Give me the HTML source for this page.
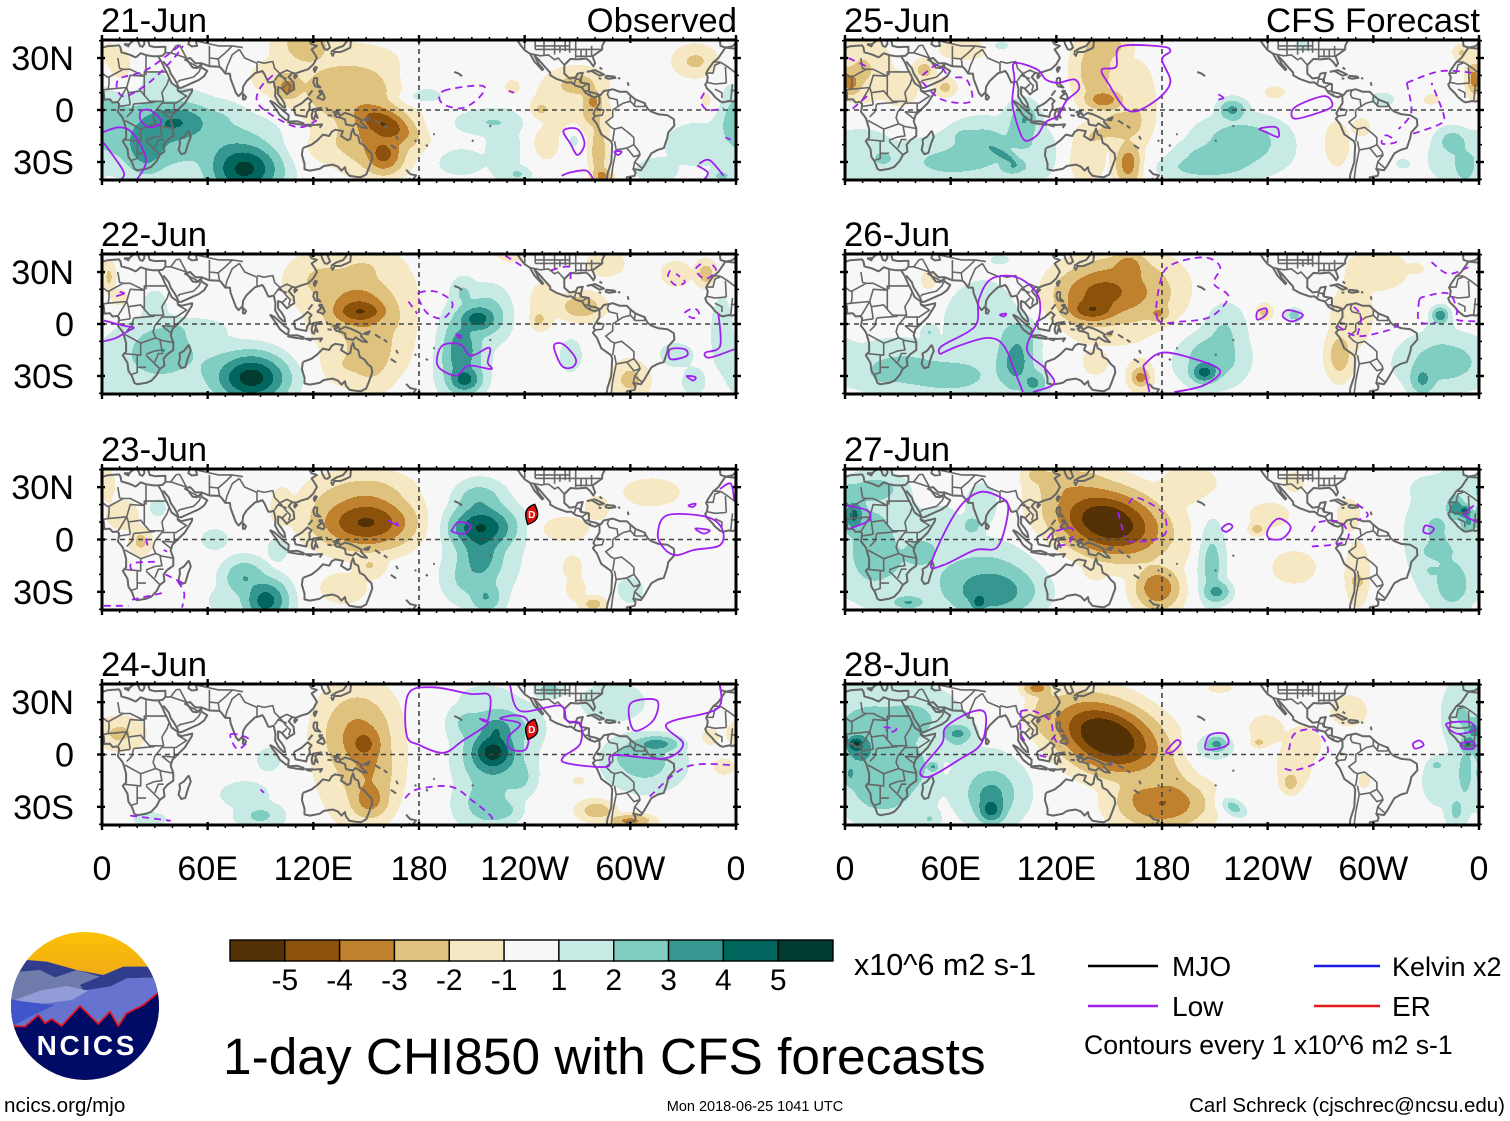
<!DOCTYPE html>
<html lang="en"><head><meta charset="utf-8"><title>1-day CHI850 with CFS forecasts</title>
<style>
html,body{margin:0;padding:0;background:#fff}
svg{display:block}
text{font-family:"Liberation Sans",Arial,sans-serif;fill:#000}
</style></head>
<body>
<svg id="chart" xmlns="http://www.w3.org/2000/svg" width="1510" height="1121" viewBox="0 0 1510 1121">
<rect width="1510" height="1121" fill="#fff"/>
<g id="panels"></g>

<g id="colorbar"></g>
<text x="854" y="975" font-size="30.5">x10^6 m2 s-1</text>
<text x="223" y="1074" font-size="51.4">1-day CHI850 with CFS forecasts</text>

<g>
<line x1="1088" x2="1158" y1="966" y2="966" stroke="#000" stroke-width="2.4"/>
<text x="1172" y="976" font-size="28">MJO</text>
<line x1="1088" x2="1158" y1="1006" y2="1006" stroke="#a020f0" stroke-width="2.4"/>
<text x="1172" y="1016" font-size="28">Low</text>
<line x1="1314" x2="1380" y1="966" y2="966" stroke="#1a1ae6" stroke-width="2.4"/>
<text x="1392" y="976" font-size="27">Kelvin x2</text>
<line x1="1314" x2="1380" y1="1006" y2="1006" stroke="#e61a1a" stroke-width="2.4"/>
<text x="1392" y="1016" font-size="28">ER</text>
<text x="1084" y="1054" font-size="26.6">Contours every 1 x10^6 m2 s-1</text>
</g>
<text x="1505" y="1112" font-size="20.5" text-anchor="end">Carl Schreck (cjschrec@ncsu.edu)</text>
<text x="4" y="1112" font-size="20.6">ncics.org/mjo</text>
<text x="755" y="1111" font-size="14.5" text-anchor="middle">Mon 2018-06-25 1041 UTC</text>

<g transform="translate(0,920) scale(0.3333)">
<defs><clipPath id="logoClip"><circle cx="255" cy="258" r="222"/></clipPath>
<linearGradient id="sunGrad" x1="0" y1="0" x2="0" y2="1"><stop offset="0" stop-color="#ffc800"/><stop offset="0.35" stop-color="#f0a818"/></linearGradient></defs>
<g clip-path="url(#logoClip)">
<rect x="0" y="0" width="520" height="520" fill="url(#sunGrad)"/>
<path d="M80,120L140,125L230,150L310,165L370,140L445,140L490,200L490,320L20,320L30,200Z" fill="#2f3d8c"/>
<path d="M60,155L120,150L165,172L230,150L300,170L240,195L250,212L330,200L380,175L460,172L490,320L20,320L25,200Z" fill="#6f7cab"/>
<path d="M240,195L300,170L250,205Z" fill="#2f3d8c"/>
<path d="M250,212L330,200L380,175L460,172L490,215L380,290L40,320L140,250Z" fill="#6674cf"/>
<path d="M45,240L120,212L200,198L265,212L215,240L120,252Z" fill="#929dd8"/>
<path d="M20,235L70,245L165,255L100,285L45,315L20,320Z" fill="#3f55c9"/>
<path d="M40,318L75,320L115,285L135,310L155,297L185,318L240,258L295,312L330,275L355,318L380,280L430,255L475,218L500,200L500,500L10,500L10,318Z" fill="#000b66" stroke="#e8101c" stroke-width="5"/>
</g>
<text x="110" y="405" font-size="84" font-weight="bold" letter-spacing="8" style="fill:#fff">NCICS</text>
</g>
</svg>

<script>
// ---- Panel labels and axes ----
const panelDates = ["21-Jun","22-Jun","23-Jun","24-Jun","25-Jun","26-Jun","27-Jun","28-Jun"];
const xTickLons = [0,60,120,180,240,300,360];
const xTickLabels = ["0","60E","120E","180","120W","60W","0"];
const yTickLats = [30,0,-30];
const yTickLabels = ["30N","0","30S"];
const colorLevels = ["-5","-4","-3","-2","-1","1","2","3","4","5"];
const levelValues = [-5,-4,-2.9,-1.75,-0.72,0.72,1.75,2.9,4,5];
const levelColors = ["#543005","#8c510a","#bf812d","#dfc27d","#f6e8c3","#f7f7f7","#c7eae5","#80cdc1","#35978f","#01665e","#003c30"];
const stormLons = [244,244];
const stormLats = [14.4,14.4];
const stormPanels = [2,3];
const stormNames = ["D","D"];

// ---- Anomaly centres: lon, lat, peak value, spreadLon, spreadLat, tilt ----
const field21Jun = [
[42,-7,3.8,14,7],[25,-22,3.4,8,10],[3,-6,2.5,9,12],[32,-14,2.9,24,14],[70,-20,2.3,14,11],[90,-12,1.5,14,9],[70,-3,1.5,10,6],[30,15,1.2,6,6],
[81,-34,5.3,13,10],
[160,-8,-4.7,12,6,-25],[160,-26,-4.2,7,7],[155,-15,-3.2,14,13],[140,10,-2.5,24,15],[105,13,-3.4,5,5],[130,-20,-1.5,13,8],[116,38,-2.4,11,9],[100,18,-1.5,11,8],
[182,8,2.1,8,3],[182,16,1.5,8,7],[220,-7,1.8,14,5],[203,-30,1.6,9,5],[236,-37,1.9,5,3],[228,-22,1.5,7,13],
[268,-17,1.4,3,4],[315,-35,1.5,8,5],[338,-20,1.6,12,8],[352,-38,2,5,3],
[249,0,-2.1,4,4],[252,-18,-1.6,5,7],[279,5,-3.2,3,3.5],[270,15,-2.2,10,6],[282,-24,-2.5,3.5,12],[284,-38,-3.3,3.5,3],[233,13,-1.5,3,3],[278,0,-2.2,6,10],[258,2,-1.5,9,11],
[337,28,-2,8,6],[344,5,-1.4,4,5],[10,24,-1.5,5,8],[4,32,-1.3,3,5]];
const field22Jun = [
[85,-31,5.5,13,9],[35,-15,2.8,12,10],[41,-5,2.2,4,4],[5,-30,1.5,7,8],[30,10,1.3,5,7],[62,-25,1.7,14,12],[55,-3,1.5,10,4],[25,-20,1.6,18,14],
[213,3,4.4,7,5],[206,-32,4.4,6,5],[204,-15,3.3,6,10],[205,18,2,5,6],[218,5,2.5,9,10],[203,-25,2.5,9,12],[204,-10,2.7,9,15],
[266,-18,1.7,4,6],[326,-18,1.4,7,5],[352,-5,1.6,4,14],[336,-33,1.3,5,6],
[147,7,-4.3,10,4.5],[145,10,-3.7,13,10],[152,-15,-2.7,9,13],[125,25,-2,13,10],[148,32,-1.7,12,7],[137,-24,-1.6,9,7],[170,-5,-1.4,5,13],[150,5,-1.8,20,24],
[248,2.5,-2.1,3,3.5],[272,10,-2.7,8,5],[250,10,-1.4,6,10],[300,-32,-2.1,7,7],
[343,29,-2.4,4,5],[326,29,-1.5,6,5],[4,27,-2,2.5,6],[10,15,-1.4,4,4],[286,35,-1.6,7,5],[232,40,-1.4,6,3]];
const field23Jun = [
[150,9,-4.7,18,9],[150,14,-3.3,16,12],[150,28,-1.8,18,7],[130,20,-1.7,12,10],[137,-28,-1.5,9,6],[152,-15,-1.8,6,5],[102,18,-1.3,5,9],
[22,-1,-2.1,4,5],[12,14,-1.4,7,6],[3,31,-1.5,3,6],[312,27,-1.7,10,5],[262,6,-1.7,9,4.5],[281,18,-1.4,5,5],[279,-37,-2.2,5,3],[267,-16,-1.4,4,5],[269,-28,-1.4,4,5],
[215,7,5,12,8],[215,-8,3.4,8,12],[214,22,2.7,9,7],[218,-33,2.9,6,6],[208,-22,2,9,9],[215,-5,1.9,14,20],
[93,-35,4.5,8,8],[81,-22,2.9,8,7],[100,-5,1.7,4,5],[64,0,1.5,5,4],[300,-29,1.5,5,5],[31,18,1.3,4,4],[72,-35,1.4,8,6]];
const field24Jun = [
[149,6,-3.8,7,7],[145,12,-3,13,15],[152,-26,-3.4,7,7],[152,-10,-2.7,10,14],[145,0,-1.9,15,26],
[10,12,-2,9,6],
[222,1.5,5.2,8,7],[224,14,3.4,6,5],[226,-32,2.3,7,4],[237,-13,2.1,6,7],[207,18,1.9,7,7],[218,33,1.6,9,4],[222,-3,3.2,12,12],[225,15,2.6,14,10],[218,-28,2.3,11,10],
[254,37,2.4,5,3],[315,6,3.5,8,3],[308,-5,2.2,14,10],[302,0,2.1,9,6],[290,30,1.4,13,8],
[90,-35,2,9,5],[81,-23,1.6,9,5],[27,-37,1.3,7,3],[95,-3,1.4,5,5],
[281,-32,-2.5,7,4],[300,-38,-3.3,8,2.5],[271,-15,-1.3,3,2],[353,-7,-1.7,4,3],[345,10,-1.3,4,4]];
const field25Jun = [
[147,6,-3.6,7,4],[161,-31,-3.8,5,8],[142,23,-2.5,8,13],[156,-9,-2.4,9,7],[149,37,-2.4,8,6],[166,0,-1.7,7,18],[137,-28,-1.8,7,9],[142,-15,-1.8,8,5],
[3,16,-3.5,4,5],[10,23,-1.9,10,12],[45,23,-2.3,4,4],[57,13,-2.1,4,3.5],[31,12,-1.5,7,7],[67,35,-1.6,9,4],[350,33,-1.9,3,3],[357,18,-3.3,2.5,6],[333,6,-1.6,3,2],[244,10,-1.5,4,2.5],[279,-20,-1.6,5,9],[293,-10,-1.3,4,4],
[220,0,3.2,5,4],[225,-18,2.5,16,9],[204,-26,1.8,10,5],[205,-33,2.2,18,5],[218,-28,1.6,22,8],
[90,-26,3.2,9,2.5,-30],[95,-33,2.8,5,3],[67,-15,2,4,3],[78,-20,2.4,13,9],[102,-5,2.7,5,6],[100,-12,2.2,7,10],[60,-30,2,24,9],[110,-25,1.6,8,10],
[22,-28,2.2,4,3],[10,-25,1.6,12,10],[345,-18,2.3,6,5],[352,-34,2.2,4,6],[350,-28,1.7,12,10],[317,-31,1.3,3,2],[260,37,1.5,3,2],[88,37,1.3,4,2],[305,6,1.3,5,3]];
const field26Jun = [
[140,8,-4.5,9,4.5],[142,16,-3.9,16,11],[161,33,-3.5,6,6],[150,20,-3.2,14,9],[178,6,-3.1,4,3],[166,18,-2.8,16,13],[154,31,-2.1,15,7],
[168,-31,-3.4,3,3],[168,-30,-2.2,5,6],[142,-22,-1.6,5,5],[149,-7,-1.7,12,3.5],
[281,-18,-2.5,5,9],[288,4,-1.6,8,13],[302,31,-1.5,12,8],[238,7,-2.3,3,3],[324,32,-1.6,3,2],[48,25,-1.3,4,5],
[204,-28,4.4,5,4],[208,-20,2.6,12,10],[215,-5,1.9,8,11],[97,-22,3.4,7,11],[107,-34,3.2,5,5],[100,-7,2.4,7,8],[60,-30,2,26,11],[22,-28,2.5,5,4],[30,-25,1.9,18,10],[48,-5,1.8,3,3],[80,0,1.7,15,16],
[338,5,3.8,3,3],[338,-3,1.5,5,7],[328,-32,3.1,5,6],[340,-22,2.4,16,10],[255,5,2.3,3,2.5],[88,37,1.3,4,2]];
const field27Jun = [
[149,10,-6,20,12,-14],[109,37,-2.2,5,4],[130,32,-2.3,15,7],[178,-28,-3.7,8,8],[175,-27,-2.1,8,8],[196,31,-1.4,12,8],[192,-1,-1.3,4,10],[120,30,-2,8,8],
[234,6,-2.3,3,2.5],[241,14,-1.4,8,5],[255,-16,-1.6,8,6],[291,-24,-2.2,3,3],[291,-20,-1.5,5,13],[255,33,-1.4,4,4],[142,-18,-1.4,5,4],[286,14,-1.3,5,7],
[211,-30,3.3,5,4],[208,-13,2.4,5,15],[83,-30,3.7,16,9],[76,-36,4.3,3,3],[79,-22,2.3,20,13],[36,-36,3,6,2.5],
[5,14,4.3,4,6],[17,29,2.4,10,5],[3,27,2.5,4,4],[15,-13,1.8,10,12],[43,-7,2.3,6,5],[72,8,2.4,4,4],[78,20,1.7,6,8],[55,4,1.5,8,10],[15,5,1.9,16,20],[35,-15,1.6,25,18],
[347,18,3.8,3,4],[352,16,4.7,2.5,2.5],[354,10,3,3,4],[336,8,2.1,3,3],[336,-7,2,6,3],[333,-18,2,2.5,2],[345,-26,2.5,7,9],[331,4,1.4,9,16],[331,29,1.3,7,5],[340,-5,1.7,12,22],[345,25,1.5,8,10]];
const field28Jun = [
[149,10,-6.2,20,12,-22],[109,38,-3.5,5,3],[114,23,-2.6,5,9],[180,-28,-4,16,9],[185,-15,-1.9,8,11],[165,-22,-1.9,7,6],
[253,-16,-2.3,3.5,4],[255,-7,-1.4,7,9],[235,7,-2.1,3,2],[239,14,-1.4,7,6],[260,6,-1.5,7,7],[286,25,-1.5,7,6],[295,-15,-1.3,2.5,3],[213,38,-1.3,5,2],
[83,-32,4.3,5,5],[83,-24,3.2,8,8],[83,-20,2,14,14],[220,-30,2.7,5,3,-30],[211,6,3.3,4,3],[208,4,1.8,8,5],
[6,6,5,3.5,3],[8,3,3.4,7,7],[12,18,2.4,10,7],[3,-11,2.9,3,5],[15,-15,2,10,12],[38,-7,2.1,8,9],[50,-7,3.1,2,2],[64,12,3.1,5,3],[64,10,1.9,7,8],[40,20,1.9,16,12],[48,-37,1.8,4,4],[20,5,2.1,18,22],[25,-20,2,16,14],
[357,14,3.4,3,4],[354,6,4.2,2.5,3],[352,-11,2.1,4,13],[350,23,1.8,7,13],[336,-6,2,3,2],[347,-32,2,4,7],[338,-15,1.5,7,10]];

// ---- Low-frequency contour lines (lon, lat pairs) ----
const solid21Jun = [
[[22,-1],[27,0],[33,-5],[33,-8],[27,-10],[22,-6],[22,-1]],
[[0,-13],[10,-10],[18,-14],[25,-29],[20,-40]],
[[1,-19],[12,-35],[11,-40]],
[[231,11],[234,10]],
[[262,-12],[270,-11],[274,-19.5],[270,-26],[266,-19.5],[262,-12]],
[[261,-38],[266,-36],[275,-35],[279,-40]],
[[291,-24],[295,-24],[293,-26],[291,-24]],
[[339,-31],[345,-29],[353,-38]],
[[338,-32],[344,-36],[342,-40]],
[[354,-16],[357,-17]]];
const dashed21Jun = [
[[44,37],[25,23],[10,18],[9,11],[14,8],[27,16],[40,29],[46,37]],
[[97,20],[90,13],[88,5],[95,-2],[111,-10],[122,-6]],
[[194,11],[216,14],[214,7],[204,1],[193,4],[194,11]],
[[342,10],[340,5],[344,0],[353,1]]];
const solid22Jun = [
[[1,2],[12.5,-1],[18,-2],[15,-4],[8,-8],[1,-10]],
[[10,18.6],[12.5,17.6],[8,16]],
[[190.6,-24],[193,-12.7],[203.5,-11.8],[209.4,-18.4],[220,-13.7],[219,-22.2],[221,-26],[208,-24],[201,-29.8],[190.6,-24]],
[[201,-6],[204,-7],[203,-8],[201,-6]],
[[256.6,-12.7],[262,-11.8],[269,-20],[267,-25],[261,-24],[256.6,-12.7]],
[[322.6,-14.6],[331,-14.6],[332,-18.4],[323,-20.3],[322.6,-14.6]],
[[332,-30],[337,-30.7],[335.6,-32.6],[332,-30]],
[[350,6],[351,-12.7],[342.6,-16.5],[345,-19.4],[359,-14.6]]];
const dashed22Jun = [
[[180,18],[190,18.6],[199,12],[194,3.4],[185,6],[180,14],[180,18]],
[[174,13],[179,6]],
[[322.6,31],[321.5,27],[326,22.4],[331,24.3],[326,29]],
[[340,34.7],[337,31],[342.6,26],[348.6,31],[345,35.7]],
[[331,6.3],[336,9],[339,6.3],[336,3.4],[331,6.3]],
[[229,39.5],[239,33]],
[[255,31],[265,33],[266,26]]];
const solid23Jun = [
[[162,11],[168,8],[167,10]],
[[199,6],[202.6,10],[209.4,8],[206,3.4],[199,4.4],[199,6]],
[[321,13.9],[343,13],[352,6.3],[351,-3.2],[336,-6],[326,-9],[319,-5],[315.6,3.4],[321,13.9]],
[[337,6.3],[345,5.3],[341.6,3.4],[337,6.3]],
[[333,19.5],[337,20.5],[335.6,18.6],[333,19.5]],
[[351,29],[357,32],[359,22.4]]];
const dashed23Jun = [
[[25,0.6],[26,-4]],[[35,-6],[37,-7]],[[30,-12.7],[17,-13.7],[17,-18.4]],
[[43,-24],[46.7,-30.7],[45.5,-39]],[[34,-30.7],[17,-34.5]],[[1,-38],[15,-38]],[[36,-20],[46,-25]]];
const solid24Jun = [
[[174,34.7],[188,38.5],[209,34.7],[220,33.8],[219,19.5],[214.6,20.5],[219,17.6],[205,8],[194,1],[180.6,5.3],[173,11],[174,34.7]],
[[231.7,39.5],[237.4,25],[260,28],[264,19.5],[271.5,17.6],[271.5,6],[262,-1.3],[264,-5],[286.6,-7],[290.4,-0.4],[319,-2.3],[330,6],[320.7,17.6],[349,26],[351,39.5]],
[[226,20.5],[235.5,22.4],[242,18.6],[241,3.4],[231.7,3.4],[230.8,10],[237.4,17.6],[226,20.5]],
[[300,29],[315,31],[313,19.5],[302,13.9],[300,29]]];
const dashed24Jun = [
[[172,-25],[179,-20],[198,-18.4],[211,-27],[221,-35.5],[221,-39.5]],
[[311,-24],[332,-7],[358,-6]],
[[73,11.5],[83,9],[77,3],[73,11.5]],
[[90,-20],[92,-22]],
[[16,-35],[39,-38]]];
const solid25Jun = [
[[96.2,27],[109,23.5],[114,17.6],[121,15.7],[130.4,17.6],[132.8,12],[125.7,5.3],[121,-3.2],[114,-7],[109,-14.6],[102,-17.5],[97.4,-7],[95,4.4],[96.2,17.6],[96.2,27]],
[[180,36.6],[184.7,33.8],[180,29],[184.7,15.7],[175,4.4],[161,-0.4],[149.3,15.7],[145.8,23.3],[154,25],[156.4,36.6],[180,36.6]],
[[255.4,1.5],[272,8],[276.7,2.5],[269.6,-1.3],[255.4,-5],[255.4,1.5]],
[[235.4,-10.8],[244.8,-9.9],[246,-15.6],[239,-12.7],[235.4,-10.8]],
[[212,9],[215,7],[212,6]]];
const dashed25Jun = [
[[44,20],[52.5,26],[58.5,19.5]],
[[44,16],[55,6],[71.5,5],[69,17.6],[60,18.6]],
[[2,30],[12.5,25]],[[12.5,8],[3,-0.4]],
[[319,15.7],[338,22.4],[357,21.4]],
[[319,15.7],[321.5,-1.3],[314.4,-11]],
[[322.6,-13.7],[338,-8],[340,-3],[333,15.7]],
[[307,-14.6],[313,-18.4],[305,-19.4],[307,-14.6]]];
const solid26Jun = [
[[53.8,-17.5],[55,-12.7],[73.8,-1.3],[76,13.9],[83,26],[97.4,27],[109,17.6],[110.4,4.4],[103.3,-14.6],[114,-26],[118.6,-34.5],[106.8,-39.3]],
[[53.8,-17.5],[64.4,-12.7],[81,-8],[90.3,-12.7],[97.4,-29.8],[101,-39.3]],
[[169.3,-24],[180,-16.5],[198.8,-20.3],[213,-27],[203.5,-35.5],[187,-39.3]],
[[169.3,-24],[172.9,-39.3]],
[[234.2,7.2],[239,9],[239,5.3],[234.2,2.5],[234.2,7.2]],
[[248.6,4.4],[251.3,8],[260,5.3],[254,1.5],[248.6,4.4]],
[[88,5.3],[91.5,6],[90.3,4.4],[88,5.3]]];
const dashed26Jun = [
[[177.6,2.5],[178.8,23.3],[184.7,33.8],[203.5,38.5],[213,33],[209.4,23.3],[217.7,15.7],[208,4.4],[191.8,1.5],[177.6,2.5]],
[[280,-1.3],[290.8,-7],[307.3,-4],[314.4,-0.4]],
[[289,10],[293,4],[290.8,-7]],
[[326,13.9],[328.6,15.7],[342.6,17.6],[347.4,8],[347.4,2.5],[359,1.5]],
[[326,13.9],[326,1.5],[335.6,0.6]],
[[333,35.7],[342.6,29],[354,32.8]]];
const solid27Jun = [
[[49,-13.7],[63,15.7],[76,27],[88,24.3],[92.7,17.6],[86.8,-4],[73.8,-6],[56,-14.6],[49,-13.7]],
[[214,6.3],[217.7,9],[220,7.2],[216.5,4.4],[214,6.3]],
[[240,5.3],[246,12],[253,7.2],[248.4,0.6],[241,0.6],[240,5.3]],
[[329.7,8],[334.4,6.3],[332,3.4],[328.5,4.4],[329.7,8]],
[[357,19.5],[352,14],[359,10]],
[[0.7,19.5],[12.5,16.7],[13.7,11],[3,6.3]]];
const dashed27Jun = [
[[161,20.5],[165.8,24],[180,15.7],[182.3,4.4],[175,-0.4],[161,-1.3]],
[[155,15.7],[158.7,1.5]],
[[115,0.6],[118.6,4.4],[129,6.3],[127,-2.3],[118.6,-3.2]],
[[264.9,4.4],[269.6,10],[281,10],[286,2.5],[281,-2.3],[264.9,-4]],
[[290.8,20.5],[297,14],[290.8,11]]];
const solid28Jun = [
[[43,-9],[55,6.3],[57.3,15.7],[71.5,24.3],[79.7,23.3],[77.4,6.3],[64.4,-3.2],[47.9,-12.7],[43,-9]],
[[182.3,1.5],[188,8],[190.5,6.3],[186,1.5],[182.3,1.5]],
[[204.7,3.4],[207,11],[215.3,12],[217.7,6.3],[211.8,3.4],[204.7,3.4]],
[[322.6,6.3],[326.2,8],[328.5,5.3],[323.8,3.4],[322.6,6.3]],
[[341.5,17.6],[354.5,18.6],[356.8,13.9],[347.4,12],[341.5,17.6]],
[[349.8,6.3],[356.8,7.2],[356.8,3.4],[351,3.4],[349.8,6.3]]];
const dashed28Jun = [
[[22,15.7],[29,14.8],[26.7,13],[23,13.9]],
[[252,2.5],[255.4,12],[267.2,13.9],[274.3,2.5],[267.2,-5],[255.4,-9],[249.5,-8]],
[[99.8,25],[106.8,25],[116.3,19.5],[118.6,10],[122,4.4]],
[[99.8,25],[99.8,12],[103.3,6.3]],
[[110.4,-0.4],[117.4,-2.3]]];

const panelFields = [field21Jun,field22Jun,field23Jun,field24Jun,field25Jun,field26Jun,field27Jun,field28Jun];
const panelSolid = [solid21Jun,solid22Jun,solid23Jun,solid24Jun,solid25Jun,solid26Jun,solid27Jun,solid28Jun];
const panelDashed = [dashed21Jun,dashed22Jun,dashed23Jun,dashed24Jun,dashed25Jun,dashed26Jun,dashed27Jun,dashed28Jun];

// ---- Base map (signed longitude, latitude) ----
const coastLines = [
[[-6,36],[-8,33],[-10,30],[-13,27.5],[-16,23],[-17,21],[-16,19],[-16.5,16],[-17.5,14.7],[-16.5,12.5],[-15,11],[-13.5,9.5],[-12,7.5],[-9,5],[-7.5,4.4],[-4,5.2],[-2,4.8],[1,6],[4.5,6.2],[6,4.3],[8.5,4.6],[9.7,3.5],[9.5,1],[9,-1],[11,-3.5],[12,-5],[13,-8.5],[13.7,-11],[13.7,-16],[11.8,-18],[14.5,-22.5],[15,-27],[17,-30],[18.4,-34],[20,-34.8],[25,-34],[28,-32.8],[31,-29.5],[32.8,-26],[35.5,-24],[35,-20],[37,-17.5],[40.5,-15],[40.5,-10.5],[39,-6.5],[40,-3],[43,0],[47,4],[51,10.5],[51.2,12],[45,10.5],[43,11.5],[43,13],[39.5,15.5],[37.5,20],[35.5,24],[34,27.5],[32.5,30],[32,31],[29,31],[25,31.7],[22,32.8],[20,31],[19,30.4],[15.5,32],[11,33.3],[10.5,36],[9.7,37.3],[3,36.8],[-1,35.5],[-6,36]],
[[49.3,-12],[50.4,-15.5],[49,-19],[47.3,-24.8],[45,-25.5],[43.5,-23],[44.3,-19.5],[44,-17],[46.5,-15.5],[49.3,-12]],
[[-9,41],[-9,38.7],[-8.8,37],[-6,36.1],[-5,36.2],[-2,36.8],[0,38.7],[0.5,41]],
[[15.6,38],[16.5,39],[18,40],[16,41]],[[12.5,38],[15.5,38],[15,36.7],[12.5,38]],
[[20,41],[21.5,37],[23,36.5],[24,38],[24,41]],
[[26,41],[27,37],[30,36.3],[36,36.5],[36,33],[34.3,31.3],[32,31]],
[[34.8,28],[38,24],[39,21],[41,18],[42.7,15],[43.5,12.7],[45,12.8],[52,16],[55,17.3],[58,19.5],[59.8,22.5],[56.5,24.5],[56.3,26.2],[54,24.2],[51.5,24.5],[50,26.5],[48,29.5],[50,30],[53,27],[56.5,27],[61,25.2],[66.7,25],[68,23.7],[70,21],[72.6,21],[73,18],[74.5,14],[76,10],[77.5,8],[79.8,10.3],[80.2,13.5],[82,16.5],[85,19.5],[87,21.3],[89,21.8],[91,22.5],[92.2,20.8],[94.4,16],[95.5,15.9],[97.5,16.5],[98.5,12],[98.3,8],[100.5,4],[103,1.5],[104,1.4],[103.5,4],[102,6.5],[100,9],[100,13.3],[102,12.5],[105,9],[106.5,10.4],[109.2,12],[108.8,15.8],[106,19],[108,21.5],[110,21],[113,22.3],[117,23.5],[120,26.3],[122,30],[121,32],[119,35],[122,37],[119,38],[118,39.5],[121.5,40],[124.5,40],[125,38],[126.5,35],[128,34.8],[129.5,36],[128.5,38.5],[127.5,41]],
[[130,33],[131,31.2],[132,33.5],[135.5,33.5],[139,35],[141,36],[141.5,41]],[[140,41],[137,37],[133,35.5],[130,33.5]],
[[50,41],[49,38],[51,36.7],[54,37],[53,41]],
[[80,9.5],[81.8,7.5],[81,6],[80,6.2],[80,9.5]],
[[95.3,5.5],[98,4],[103.5,-1],[106,-3],[105.8,-5.8],[104.5,-5.8],[101,-3],[98.5,1],[95.3,5.5]],
[[105.2,-6.8],[108.5,-6.6],[111,-6.5],[114.5,-7.7],[114.3,-8.6],[110,-8],[106.5,-7.4],[105.2,-6.8]],
[[115,-8.5],[120,-8.5]],[[116,-8.8],[119,-9.5]],[[119,-8.7],[125,-8.3],[123.6,-10.3]],
[[109,1.5],[111.5,2.8],[113.5,4],[116.8,7],[119,5.2],[117.7,3.5],[118,1],[116.5,-1.5],[116,-4],[113,-3.4],[110,-2.8],[109,0],[109,1.5]],
[[119.5,-5.5],[119,-3],[120,0.5],[124.5,1.2],[121,-0.8],[122.5,-4.5],[121,-3],[120.5,-5.5],[119.5,-5.5]],
[[120.5,18.5],[122.2,18.3],[122,15],[124,13],[121,13.7],[120,16],[120.5,18.5]],
[[122,7],[123.5,8.5],[125.5,9.7],[126.5,7],[125.5,5.8],[124,6.5],[122,7]],
[[123,11],[125,11],[124,9.8],[123,11]],[[117.2,8.3],[119.5,11.3]],
[[121,25],[122,24.5],[120.8,22],[120.2,23.5],[121,25]],[[109,20],[110.8,19.8],[109.5,18.3],[109,20]],
[[131,-1],[134,-0.8],[135,-3.3],[138,-1.7],[141,-2.6],[145,-4.5],[147.5,-6],[147,-7],[150.5,-10.5],[147.5,-10],[144,-7.7],[142.5,-9.2],[138.5,-8.3],[138,-5.5],[135.5,-4.4],[133,-4],[132,-2.8],[133.5,-2.2],[131,-1]],
[[128,-3],[130.5,-3.3]],[[127.5,1.5],[128,-0.5]],
[[148.5,-5.6],[152,-4.2],[151,-6],[148.5,-5.6]],[[155,-6],[158,-8]],[[160,-9],[162,-10.5]],[[167,-15],[168,-17]],[[164,-20.2],[167,-22.3]],[[177.5,-17.5],[178.5,-18]],
[[172.7,-34.5],[175,-37],[178.3,-37.7],[176,-41]],[[173,-41],[175,-39.5]],
[[-160,22],[-157.5,21],[-155.5,19.5]],[[-176,-20],[-175,-21]],[[-172,-14],[-171,-14]],[[-150,-17.5],[-149,-18]],[[-140,-9],[-139,-9.5]],
[[114,-22],[113.5,-26],[115,-31],[115,-34.3],[118,-35],[123.5,-34],[126,-32.3],[131,-31.5],[134,-32.7],[136,-35],[138,-33],[138.5,-35.5],[140.5,-38],[144,-38.5],[147,-38.8],[150,-37.2],[151.5,-33.5],[153.5,-28],[153,-25],[150.8,-23],[149,-20.5],[146.3,-19],[145.5,-15],[143.5,-14],[142.5,-10.8],[141.7,-13],[141,-16.7],[139.5,-17.5],[135.7,-15],[136.8,-12.2],[132.5,-11.4],[130.5,-12.5],[129,-15],[125.5,-14.2],[122.3,-17.5],[119,-20],[114,-22]],
[[-125,41],[-124,40],[-122,37],[-120,34.5],[-117,32.5],[-114.5,28],[-110,23],[-109.5,23.5],[-112,26.5],[-114.5,31.5],[-112,29],[-109,25.5],[-105.5,21.5],[-105.5,20],[-102,18],[-96,15.8],[-93.5,16],[-91,14],[-87.5,13],[-85.5,10],[-83,8.3],[-80,7.3],[-78,8.5],[-77.5,7],[-77.5,4],[-79,1.5],[-80,0],[-81,-2],[-80,-3.5],[-81.3,-5],[-79,-8],[-76.5,-14],[-71,-18],[-70.3,-20],[-70.8,-30],[-73,-37],[-73.5,-41]],
[[-62,-41],[-62,-38.8],[-57.5,-38],[-57,-36],[-58.4,-34],[-54,-34.8],[-52,-32],[-48.6,-26],[-48,-25],[-44.5,-23],[-41,-22],[-39,-16],[-38.5,-13],[-35,-9],[-35.3,-5.3],[-39,-3],[-44,-2.5],[-48,-1],[-50,0.5],[-52,4],[-57,6],[-60,8.5],[-62,10.5],[-66,10.5],[-70,12],[-72,11.5],[-75,11],[-77,8.5],[-79.5,9.5],[-83.5,10.5],[-83.5,15],[-88,15.8],[-88,18],[-87,21.5],[-90,21],[-91,18.7],[-94.5,18.2],[-97.5,21],[-97.5,26],[-94,29.5],[-90,29.2],[-85,29.7],[-83,28],[-81,25.2],[-80,27],[-81.5,31],[-76,35],[-76,37],[-74,41]],
[[-84.8,22],[-80,23],[-75,20.5],[-77.5,19.8],[-82,22.5],[-84.8,22]],
[[-74,19.8],[-69,19.3],[-68.5,18.5],[-72,18],[-74,18.5],[-74,19.8]],
[[-78,18.3],[-76.5,18]],[[-67,18.4],[-65.7,18.2]],[[-61.5,16],[-61,14]],[[-77.5,24.5],[-76,23.5]]];
const borderLines = [
[[9,30],[10,24],[12,23.5],[16,23.5],[24,19.5],[24,22],[37,22]],[[25,32],[25,20]],[[-8.5,27.5],[-4.8,25],[3,19],[4,19],[12,23.5]],[[-13,27.7],[-8.7,27.7]],[[-17,21.3],[-13,21.3],[-12,26],[-8.7,27.3]],[[-5.5,15.5],[-12,15],[-16.5,16]],[[-5.5,15.5],[-6,25]],[[4,19],[4,15],[3.5,12],[14,13],[16,20],[24,19.5]],[[14,13],[15,10],[22,11],[24,8.5],[27,5],[35,5],[34,10],[37,15],[38,18]],[[24,8.5],[24,20]],[[30,-1],[34,4],[42,4],[48,8],[43,11]],[[34,-1],[41,-1.5],[41,4]],[[30,-1],[29,-4.5],[30.5,-8],[22,-11],[13,-6]],[[34,-1],[39,-5]],[[30.5,-8],[34,-9.5],[40.5,-10.7]],[[22,-11],[22,-18],[12,-17]],[[25,-17.5],[30,-15.5],[34,-15],[33,-9.5]],[[20,-18],[20,-28],[17,-29]],[[25,-18],[29,-22],[33,-26]],[[14,13],[9,4.5]],[[-2,15],[-3,5]],[[1,11],[1.5,6]],[[16,3],[9.5,2]],[[18,3.5],[30,4.5]],[[14,-4],[17,-1],[18,3.5]],[[-8,7],[-8,10],[-12,12]],[[-3,11],[3.5,12]],[[15,10],[16,3]],[[25,-25],[20,-25]],[[30,-22],[32,-17],[35,-17]],
[[36,33],[39,33],[42,37],[44,37.5]],[[39,33],[48,30],[47,29],[56,24]],[[52,19],[55,22],[56,24]],[[52,19],[44,17],[43,16]],[[44,37.5],[48,30]],[[61,25.3],[61,31],[61,37]],[[61,30],[66,29.5],[70,33],[74,37]],[[66,29.5],[66.7,25]],[[71,25],[74,32],[78,35]],[[71,25],[70,21]],[[88,28],[92,27],[97,28],[98,24],[101,21],[100,20],[98,17]],[[88,22],[88,27],[81,30],[78,35]],[[101,21],[105,23],[108,21.5]],[[101,21],[105,16],[107,14],[106,11]],[[100,20],[105,18]],[[102,12],[105,15]],[[53,40],[66,37],[74,37]],[[74,37],[80,36]],
[[-117,32.5],[-111,31.3],[-106.5,31.8],[-103,29],[-101,30],[-97.5,26]],[[-114,37],[-94,37]],[[-124,40],[-75,40]],[[-109,31.3],[-109,41]],[[-103,32],[-103,41]],[[-114,35],[-114,41]],[[-94.5,33],[-94.5,41]],[[-91,30],[-91,41]],[[-88,30.3],[-88,35]],[[-85,31],[-85,35]],[[-114,35],[-76,35]],[[-91,31],[-82,31]],[[-120,35],[-120,41]],[[-97,34],[-97,41]],[[-82,31],[-82,37]],[[-100,37],[-100,33]],
[[-72,12],[-73,9],[-72,7],[-67.5,6],[-67,2],[-70,0],[-70,-4],[-74,-7],[-71,-10],[-69,-11],[-65,-10],[-60,-14],[-58,-16],[-58,-20],[-55,-24],[-54.5,-26],[-57.5,-30],[-53.5,-33.5]],[[-67,2],[-64,4],[-60,5],[-57,2],[-52,2],[-51.5,4.3]],[[-60,8],[-60,5]],[[-57,6],[-58,2]],[[-79,0.8],[-75,0],[-76,-3],[-80,-3.5]],[[-70,-18],[-69,-11]],[[-69,-18],[-68,-23],[-70,-33],[-71,-41]],[[-68,-23],[-62,-22],[-58,-20]],[[-62,-22],[-58,-27],[-55,-26]],[[-57.5,-30],[-58.3,-34]],
[[-92,14.5],[-91,17.8],[-89,17.8],[-88.3,15.8]],[[-87.5,13],[-85,14.8],[-83.5,15]],[[-85.5,11],[-83.7,11]],[[-83,8.3],[-82.7,9.5]]];

// ---- Panel layout ----
const panelLefts = [102,102,102,102,845,845,845,845];
const panelTops = [40,254,469,684,40,254,469,684];
const panelBottoms = [180,394,610,825,180,394,610,825];
const PW = 634, LAT_MAX = 40.4, SPREAD = 1.22;
const SVGNS = "http://www.w3.org/2000/svg";
const root = document.getElementById("panels");

function mk(tag, attrs, parent){
  const el = document.createElementNS(SVGNS, tag);
  for (const k in attrs) el.setAttribute(k, attrs[k]);
  if (parent) parent.appendChild(el);
  return el;
}
function xScale(p, lon){ return panelLefts[p] + lon/360*PW; }
function yScale(p, lat){ const h = panelBottoms[p]-panelTops[p]; return (panelTops[p]+panelBottoms[p])/2 - lat/LAT_MAX*h/2; }
function levelIndex(v){
  let i = 0;
  while (i < levelValues.length && v >= levelValues[i]) i++;
  return i;
}
// Same-sign centres merge softly (p-norm) so each centre keeps its own peak value.
function fieldAt(blobs, lon, lat){
  let pos = 0, neg = 0;
  for (const b of blobs){
    let dx = lon-b[0]; if (dx>180) dx-=360; if (dx<-180) dx+=360;
    const dy = lat-b[1];
    let u = dx, v = dy;
    if (b[5]){ const t=b[5]*Math.PI/180; u = dx*Math.cos(t)+dy*Math.sin(t); v = -dx*Math.sin(t)+dy*Math.cos(t); }
    const sx = b[3]*SPREAD, sy = b[4]*SPREAD;
    const val = b[2]*Math.exp(-0.5*(u*u/(sx*sx)+v*v/(sy*sy)));
    if (val>0) pos += val*val*val; else neg -= val*val*val;
  }
  return Math.cbrt(pos)-Math.cbrt(neg);
}
function linePath(p, lines, offset){
  let d = "";
  for (const ln of lines){
    d += "M" + ln.map(q => xScale(p,q[0]+offset).toFixed(1)+","+yScale(p,q[1]).toFixed(1)).join("L");
  }
  return d;
}
function smoothPath(p, pts){
  const P = pts.map(q => [xScale(p,q[0]), yScale(p,q[1])]);
  const n = P.length;
  const closed = n>2 && pts[0][0]===pts[n-1][0] && pts[0][1]===pts[n-1][1];
  let d = "M"+P[0][0].toFixed(1)+","+P[0][1].toFixed(1);
  for (let i=0;i<n-1;i++){
    const a = i>0 ? P[i-1] : (closed ? P[n-2] : P[0]);
    const b = P[i], c = P[i+1];
    const e = i<n-2 ? P[i+2] : (closed ? P[1] : P[n-1]);
    d += "C"+(b[0]+(c[0]-a[0])/6).toFixed(1)+","+(b[1]+(c[1]-a[1])/6).toFixed(1)+" "+(c[0]-(e[0]-b[0])/6).toFixed(1)+","+(c[1]-(e[1]-b[1])/6).toFixed(1)+" "+c[0].toFixed(1)+","+c[1].toFixed(1);
  }
  return d;
}

panelDates.forEach(function(date, p){
  const L = panelLefts[p], T = panelTops[p], B = panelBottoms[p], H = B-T;
  const g = mk("g", {}, root);
  
  
  const clip = mk("clipPath", {id:"clip"+p}, g);
  mk("rect", {x:L,y:T,width:PW,height:H}, clip);

  // filled anomaly field
  const cells = mk("g", {"shape-rendering":"crispEdges"}, g);
  
  
  const step = 1;
  const lonPer = 360/PW, latPer = 2*LAT_MAX/H;
  for (let py=0; py<H; py+=step){
    const lat = LAT_MAX - (py+step/2)*latPer;
    let start = 0, cur = -1;
    for (let px=0; px<=PW; px+=step){
      const idx = px<PW ? levelIndex(fieldAt(panelFields[p], (px+step/2)*lonPer, lat)) : -2;
      if (idx !== cur){
        if (cur >= 0){
          const r = mk("rect", {x:L+start,y:T+py,width:px-start,height:step,fill:levelColors[cur]}, cells);
          
          
        }
        start = px; cur = idx;
      }
    }
  }

  // base map
  const map = mk("g", {"clip-path":"url(#clip"+p+")", fill:"none", stroke:"#666", "stroke-linejoin":"round"}, g);
  
  
  const bd = mk("path", {d:linePath(p,borderLines,0)+linePath(p,borderLines,360), "stroke-width":1.6}, map);
  
  
  const cs = mk("path", {d:linePath(p,coastLines,0)+linePath(p,coastLines,360), "stroke-width":2}, map);
  
  

  // reference lines
  const eq = mk("line", {x1:L,x2:L+PW,y1:yScale(p,0),y2:yScale(p,0),stroke:"#444","stroke-width":1.4,"stroke-dasharray":"5 4"}, g);
  
  
  const dl = mk("line", {x1:xScale(p,180),x2:xScale(p,180),y1:T,y2:B,stroke:"#444","stroke-width":1.6,"stroke-dasharray":"5 4"}, g);
  
  

  // low-frequency contours
  const cont = mk("g", {"clip-path":"url(#clip"+p+")", fill:"none", stroke:"#a020f0", "stroke-width":1.8}, g);
  
  
  panelSolid[p].forEach(function(pts){
    const c = mk("path", {d:smoothPath(p,pts)}, cont);
    
    
  });
  panelDashed[p].forEach(function(pts){
    const c = mk("path", {d:smoothPath(p,pts),"stroke-dasharray":"7 5"}, cont);
    
    
  });

  // frame and ticks
  const frame = mk("rect", {x:L,y:T,width:PW,height:H,fill:"none",stroke:"#000","stroke-width":3}, g);
  
  
  const ticks = mk("g", {stroke:"#000"}, g);
  
  
  for (let lon=0; lon<=360; lon+=10){
    const major = lon%60===0, len = major?5:3, x = xScale(p,lon);
    mk("line", {x1:x,x2:x,y1:T-len,y2:T+(major?3:0),"stroke-width":major?2.4:1.5}, ticks);
    mk("line", {x1:x,x2:x,y1:B+len,y2:B-(major?3:0),"stroke-width":major?2.4:1.5}, ticks);
  }
  for (let lat=-40; lat<=40; lat+=10){
    const major = lat%30===0, len = major?5:3, y = yScale(p,lat);
    mk("line", {x1:L-len,x2:L+(major?3:0),y1:y,y2:y,"stroke-width":major?2.4:1.5}, ticks);
    mk("line", {x1:L+PW+len,x2:L+PW-(major?3:0),y1:y,y2:y,"stroke-width":major?2.4:1.5}, ticks);
  }

  // labels
  const dt = mk("text", {x:L-1,y:T-8,"font-size":34.7}, g);
  dt.textContent = date;
  
  
  if (p===0 || p===4){
    const src = mk("text", {x:L+PW+1,y:T-8,"font-size":34.7,"text-anchor":"end"}, g);
    src.textContent = p===0 ? "Observed" : "CFS Forecast";
    
    
  }
  if (p<4){
    yTickLats.forEach(function(lat,i){
      const t = mk("text", {x:74,y:yScale(p,lat)+12,"font-size":34.2,"text-anchor":"end"}, g);
      t.textContent = yTickLabels[i];
      
      
    });
  }
  if (p===3 || p===7){
    xTickLons.forEach(function(lon,i){
      const t = mk("text", {x:xScale(p,lon),y:880,"font-size":34,"text-anchor":"middle"}, g);
      t.textContent = xTickLabels[i];
      
      
    });
  }
});

// tropical storm markers
stormLons.forEach(function(lon,i){
  const p = stormPanels[i];
  const x = xScale(p,lon), y = yScale(p,stormLats[i]);
  const s = mk("g", {transform:"translate("+x+","+y+")"}, root);
  
  
  mk("path", {d:"M3,-10C-1,-9 -6,-6 -6,0C-6,4 -5,7 -4,10C0,9 6,6 6,0C6,-3 5,-6 3,-10Z",fill:"#e01010",stroke:"#000","stroke-width":1.4}, s);
  const t = mk("text", {x:0,y:3.5,"font-size":10,"font-weight":"bold","text-anchor":"middle",style:"fill:#fff"}, s);
  t.textContent = stormNames[i];
  
  
});

// colorbar
const cbar = document.getElementById("colorbar");
const cbX = 230, cbW = 603/11;
levelColors.forEach(function(col,i){
  const r = mk("rect", {x:cbX+i*cbW,y:940,width:cbW,height:21,fill:col,stroke:"#000","stroke-width":1.4}, cbar);
  
  
});
colorLevels.forEach(function(lab,i){
  const t = mk("text", {x:cbX+(i+1)*cbW,y:990,"font-size":30,"text-anchor":"middle"}, cbar);
  t.textContent = lab;
  
  
});
</script>
</body></html>
